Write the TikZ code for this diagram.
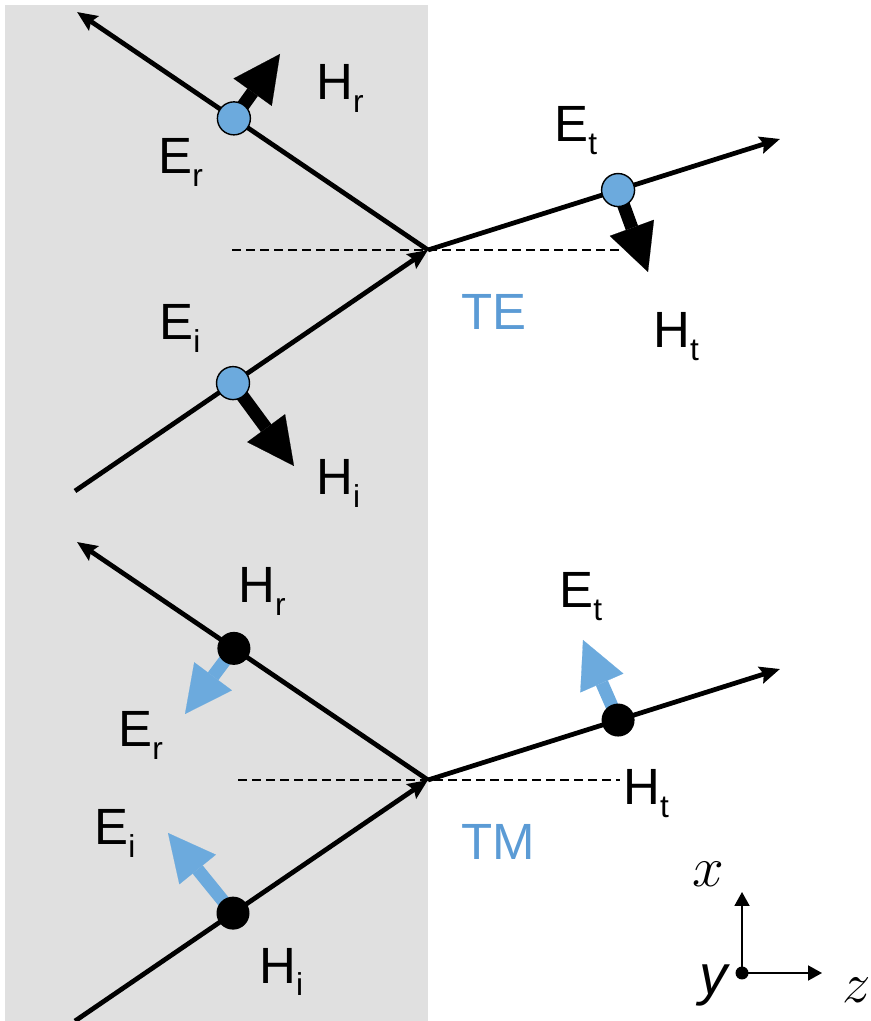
\documentclass[tikz,border=0pt]{standalone}
\usepackage{fontspec}
\setmainfont{Liberation Sans}
\usepackage{tikz}
\usetikzlibrary{calc,arrows.meta}
\definecolor{slabgray}{RGB}{224,224,224}
\definecolor{fieldblue}{RGB}{108,170,221}
\definecolor{modeblue}{RGB}{91,155,213}
\newcommand{\fsub}[1]{\raisebox{-7pt}{\fontsize{18}{18}\selectfont #1}}
\newcommand{\axmath}[1]{\scalebox{1.3}{\Huge$#1$}}

\begin{document}
\begin{tikzpicture}[
    ray/.style={line width=2.7pt, -{Stealth[length=0.4cm, width=0.34cm, inset=0.06cm]}},
    fatarrow/.style={line width=0.26cm, -{Triangle[length=0.94cm, width=0.94cm, line width=0.1pt]}},
    normalline/.style={dash pattern=on 0.18cm off 0.1cm, line width=0.8pt},
    bluedot/.style={circle, fill=fieldblue, draw=black, line width=0.8pt, minimum size=0.66cm, inner sep=0},
    blackdot/.style={circle, fill=black, minimum size=0.66cm, inner sep=0},
    lbl/.style={anchor=base west, inner sep=0, font=\fontsize{29}{32}\selectfont},
    modelbl/.style={lbl, text=modeblue},
    axlbl/.style={inner sep=0, font=\fontsize{29}{32}\selectfont}
  ]
    \useasboundingbox (0,0) rectangle (17.42,20.42);

    % Medium
    \fill[slabgray] (0.1,0) rectangle (8.56,20.32);

    % ---------- TE ----------
    \coordinate (TEo) at (8.56,15.42);
    \coordinate (TEin) at (1.5,10.6);
    \coordinate (TErend) at (1.54,20.18);
    \coordinate (TEtend) at (15.6,17.64);
    \coordinate (TEdashL) at (4.64,15.42);
    \coordinate (TEdashR) at (12.4,15.42);
    \coordinate (TEr) at ($(TEo)!0.553!(TErend)$);
    \coordinate (TEt) at ($(TEo)!0.54!(TEtend)$);
    \coordinate (TEi) at ($(TEin)!0.4476!(TEo)$);
    \coordinate (TEHr) at (5.6,19.34);
    \coordinate (TEHt) at (12.96,14.98);
    \coordinate (TEHi) at (5.88,11.1);

    \draw[normalline] (TEdashL) -- (TEdashR);
    \draw[ray] (TEin) -- (TEo);
    \draw[ray] (TEo) -- (TErend);
    \draw[ray] (TEo) -- (TEtend);

    % H fields
    \draw[fatarrow] (TEr) -- (TEHr);
    \draw[fatarrow] (TEt) -- (TEHt);
    \draw[fatarrow] (TEi) -- (TEHi);

    % E fields (out of plane)
    \node[bluedot] (TEEr) at (TEr) {};
    \node[bluedot] (TEEt) at (TEt) {};
    \node[bluedot] (TEEi) at (TEi) {};

    \node[lbl] (TEErlbl) at (3.16,16.94) {E\fsub{r}};
    \node[lbl] (TEHrlbl) at (6.32,18.42) {H\fsub{r}};
    \node[lbl] (TEEtlbl) at (11.08,17.58) {E\fsub{t}};
    \node[lbl] (TEHtlbl) at (13.06,13.46) {H\fsub{t}};
    \node[lbl] (TEEilbl) at (3.18,13.62) {E\fsub{i}};
    \node[lbl] (TEHilbl) at (6.32,10.52) {H\fsub{i}};
    \node[modelbl] (TElbl) at (9.22,13.82) {TE};

    % ---------- TM ----------
    \coordinate (TMo) at (8.56,4.82);
    \coordinate (TMin) at (1.5,0);
    \coordinate (TMrend) at (1.54,9.58);
    \coordinate (TMtend) at (15.6,7.04);
    \coordinate (TMdashL) at (4.76,4.82);
    \coordinate (TMdashR) at (12.4,4.82);
    \coordinate (TMr) at ($(TMo)!0.553!(TMrend)$);
    \coordinate (TMt) at ($(TMo)!0.54!(TMtend)$);
    \coordinate (TMi) at ($(TMin)!0.4476!(TMo)$);
    \coordinate (TMEr) at (3.7,6.14);
    \coordinate (TMEt) at (11.66,7.62);
    \coordinate (TMEi) at (3.36,3.76);

    \draw[normalline] (TMdashL) -- (TMdashR);
    \draw[ray] (TMin) -- (TMo);
    \draw[ray] (TMo) -- (TMrend);
    \draw[ray] (TMo) -- (TMtend);

    % E fields
    \draw[fatarrow, fieldblue] (TMr) -- (TMEr);
    \draw[fatarrow, fieldblue] (TMt) -- (TMEt);
    \draw[fatarrow, fieldblue] (TMi) -- (TMEi);

    % H fields (out of plane)
    \node[blackdot] (TMHr) at (TMr) {};
    \node[blackdot] (TMHt) at (TMt) {};
    \node[blackdot] (TMHi) at (TMi) {};

    \node[lbl] (TMHrlbl) at (4.76,8.36) {H\fsub{r}};
    \node[lbl] (TMErlbl) at (2.36,5.48) {E\fsub{r}};
    \node[lbl] (TMEtlbl) at (11.18,8.26) {E\fsub{t}};
    \node[lbl] (TMHtlbl) at (12.46,4.32) {H\fsub{t}};
    \node[lbl] (TMEilbl) at (1.88,3.52) {E\fsub{i}};
    \node[lbl] (TMHilbl) at (5.18,0.76) {H\fsub{i}};
    \node[modelbl] (TMlbl) at (9.22,3.22) {TM};

    % Axes
    \coordinate (ax0) at (14.84,0.96);
    \coordinate (axX) at (14.84,2.58);
    \coordinate (axZ) at (16.44,0.96);
    \draw[line width=1.1pt, -{Triangle[length=0.28cm, width=0.3cm]}] (ax0) -- (axX);
    \draw[line width=1.1pt, -{Triangle[length=0.28cm, width=0.3cm]}] (ax0) -- (axZ);
    \fill (ax0) circle (0.13cm);
    \node[axlbl] (xlbl) at (14.16,2.94) {\axmath{x}};
    \node[axlbl] (zlbl) at (17.14,0.62) {\axmath{z}};
    \node[axlbl, font=\fontsize{32}{34}\selectfont\itshape] (ylbl) at (14.28,0.72) {y};
\end{tikzpicture}
\end{document}
